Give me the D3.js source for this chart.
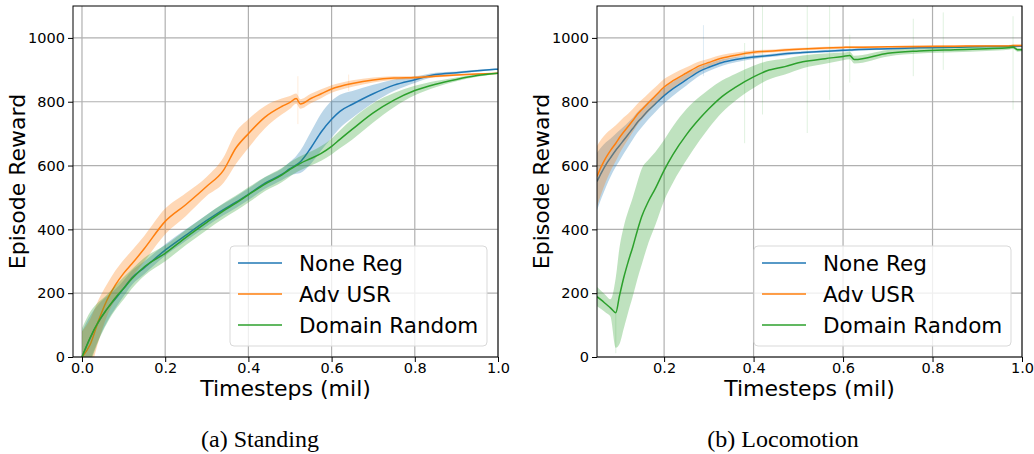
<!DOCTYPE html>
<html>
<head>
<meta charset="utf-8">
<script src="https://cdn.jsdelivr.net/npm/d3@7"></script>
<style>
  body { margin: 0; background: #fff; }
  svg text { font-family: "DejaVu Sans", sans-serif; fill: #000; }
  .caption { font-family: "Liberation Serif", "Times New Roman", serif; }
</style>
</head>
<body>
<div id="chart"></div>
<script>
// series names + tab10 colors
const seriesNames = ["None Reg", "Adv USR", "Domain Random"];
const seriesColors = ["#1f77b4", "#ff7f0e", "#2ca02c"];

// ----- (a) Standing -----
const standX = [0, 0.02, 0.04, 0.06, 0.08, 0.1, 0.12, 0.15, 0.2, 0.25, 0.3, 0.34, 0.37, 0.4, 0.44, 0.48, 0.5, 0.515, 0.525, 0.55, 0.575, 0.6, 0.62, 0.65, 0.7, 0.75, 0.8, 0.85, 0.9, 0.95, 1.0];
const standNone = [0, 60, 110, 150, 182, 215, 248, 280, 335, 382, 428, 462, 485, 510, 545, 572, 590, 602, 612, 655, 705, 745, 770, 792, 825, 852, 869, 885, 891, 897, 902];
const standAdv = [0, 40, 115, 178, 225, 262, 292, 340, 425, 478, 535, 585, 655, 700, 752, 785, 798, 810, 793, 810, 825, 840, 848, 857, 868, 874, 876, 880, 884, 887, 889];
const standDomain = [0, 62, 112, 150, 185, 215, 245, 283, 325, 375, 422, 458, 482, 508, 542, 570, 588, 600, 607, 622, 638, 660, 682, 714, 765, 805, 835, 855, 870, 882, 889];
// half width of the shaded band
const standNoneBand = [80, 70, 55, 40, 30, 25, 22, 20, 18, 18, 18, 18, 18, 18, 18, 18, 22, 28, 35, 50, 58, 58, 52, 42, 28, 18, 10, 6, 4, 3, 2];
const standAdvBand = [80, 80, 65, 50, 45, 42, 42, 40, 40, 36, 30, 40, 50, 45, 35, 25, 20, 16, 15, 15, 14, 12, 11, 10, 8, 6, 5, 4, 3, 2, 2];
const standDomainBand = [90, 80, 60, 45, 38, 35, 30, 28, 25, 24, 24, 24, 24, 24, 22, 22, 22, 22, 22, 22, 23, 25, 28, 32, 30, 22, 15, 10, 6, 4, 2];
// thin spikes in the bands: [series index, x, low, high]
const standSpikes = [[1, 0.519, 730, 880], [1, 0.641, 833, 885]];

// ----- (b) Locomotion -----
const locoX = [0.05, 0.06, 0.07, 0.08, 0.092, 0.1, 0.11, 0.12, 0.13, 0.14, 0.15, 0.165, 0.18, 0.2, 0.22, 0.25, 0.28, 0.3, 0.33, 0.36, 0.4, 0.43, 0.47, 0.51, 0.56, 0.6, 0.615, 0.625, 0.7, 0.77, 0.85, 0.92, 0.97, 0.98, 0.99, 1.0];
const locoNone = [550, 578, 603, 624, 648, 662, 680, 698, 716, 735, 750, 773, 793, 819, 841, 869, 896, 908, 923, 932, 940, 944, 950, 954, 958, 961, 962, 963, 966, 969, 971, 973, 973, 974, 974, 974];
const locoAdv = [566, 598, 625, 647, 670, 687, 706, 723, 741, 760, 775, 797, 818, 846, 866, 890, 913, 923, 937, 946, 955, 958, 962, 965, 968, 970, 971, 971, 972, 973, 974, 975, 975, 976, 976, 976];
const locoDomain = [189, 178, 166, 154, 139, 190, 250, 300, 345, 395, 440, 488, 527, 585, 635, 697, 748, 778, 817, 846, 878, 897, 910, 925, 935, 942, 945, 932, 952, 959, 963, 966, 969, 971, 963, 963];
const locoNoneBand = [90, 80, 70, 60, 52, 48, 42, 38, 34, 32, 30, 28, 26, 24, 22, 18, 14, 12, 10, 8, 6, 5, 5, 4, 4, 4, 4, 4, 3, 3, 3, 3, 3, 3, 3, 3];
const locoAdvBand = [95, 85, 75, 65, 56, 50, 45, 40, 36, 33, 31, 29, 27, 25, 22, 18, 14, 12, 10, 8, 6, 5, 5, 4, 4, 4, 4, 4, 3, 3, 3, 3, 3, 3, 3, 3];
const locoDomainBand = [30, 28, 27, 27, 110, 150, 160, 158, 155, 152, 150, 130, 115, 95, 88, 80, 68, 60, 50, 42, 35, 30, 25, 20, 16, 12, 12, 12, 10, 8, 8, 7, 6, 6, 6, 5];
const locoSpikes = [[0, 0.288, 880, 1040], [2, 0.38, 670, 984], [2, 0.42, 760, 1100], [2, 0.52, 702, 1100], [2, 0.57, 806, 1100], [2, 0.615, 860, 1010], [2, 0.757, 880, 1060], [2, 0.824, 900, 1080], [2, 0.98, 775, 1068], [2, 0.092, 12, 140]];

const yTicks = [0, 200, 400, 600, 800, 1000];

const panels = [
    {
        x0: 73, x1: 498, caption: "(a) Standing", capX: 260,
        xDomain: [-0.0216, 1.0], xTicks: [0, 0.2, 0.4, 0.6, 0.8, 1.0],
        xs: standX, ys: [standNone, standAdv, standDomain],
        bands: [standNoneBand, standAdvBand, standDomainBand], spikes: standSpikes
    },
    {
        x0: 597, x1: 1022, caption: "(b) Locomotion", capX: 783,
        xDomain: [0.05, 1.0], xTicks: [0.2, 0.4, 0.6, 0.8, 1.0],
        xs: locoX, ys: [locoNone, locoAdv, locoDomain],
        bands: [locoNoneBand, locoAdvBand, locoDomainBand], spikes: locoSpikes
    }
];

const W = 1034, H = 454;
const plotTop = 6, plotBottom = 357;

const svg = d3.select("#chart").append("svg")
    .attr("width", W)
    .attr("height", H);

panels.forEach((p, pi) => {

    const x = d3.scaleLinear().domain(p.xDomain).range([p.x0, p.x1]);
    const y = d3.scaleLinear().domain([0, 1100]).range([plotBottom, plotTop]);

    const g = svg.append("g");

    // clip to plot area
    g.append("clipPath")
    .attr("id", "clip" + pi)
    .append("rect")
    .attr("x", p.x0)
    .attr("y", plotTop)
    .attr("width", p.x1 - p.x0)
    .attr("height", plotBottom - plotTop);

    // grid
    g.append("g")
    .selectAll("line")
    .data(p.xTicks)
    .enter()
    .append("line")
    .attr("x1", d => x(d)).attr("x2", d => x(d))
    .attr("y1", plotTop).attr("y2", plotBottom)
    .attr("stroke", "#b0b0b0")
    .attr("stroke-width", 1.2);

    g.append("g")
    .selectAll("line")
    .data(yTicks)
    .enter()
    .append("line")
    .attr("x1", p.x0).attr("x2", p.x1)
    .attr("y1", d => y(d)).attr("y2", d => y(d))
    .attr("stroke", "#b0b0b0")
    .attr("stroke-width", 1.2);

    const plot = g.append("g").attr("clip-path", `url(#clip${pi})`);

    const area = d3.area()
    .x(d => x(d.x))
    .y0(d => y(d.lo))
    .y1(d => y(d.hi))
    .curve(d3.curveMonotoneX);

    const line = d3.line()
    .x(d => x(d.x))
    .y(d => y(d.y))
    .curve(d3.curveMonotoneX);

    // each series: band, spikes, then mean line
    p.ys.forEach((ys, si) => {
        const pts = p.xs.map((xv, i) => ({
            x: xv,
            y: ys[i],
            lo: ys[i] - p.bands[si][i],
            hi: ys[i] + p.bands[si][i]
        }));

        plot.append("path")
        .datum(pts)
        .attr("d", area)
        .attr("fill", seriesColors[si])
        .attr("fill-opacity", 0.3);

        plot.selectAll(".spike" + si)
        .data(p.spikes.filter(s => s[0] == si))
        .enter()
        .append("line")
        .attr("class", "spike" + si)
        .attr("x1", d => x(d[1])).attr("x2", d => x(d[1]))
        .attr("y1", d => y(d[2])).attr("y2", d => y(d[3]))
        .attr("stroke", seriesColors[si])
        .attr("stroke-opacity", 0.15)
        .attr("stroke-width", 1);

        plot.append("path")
        .datum(pts)
        .attr("d", line)
        .attr("fill", "none")
        .attr("stroke", seriesColors[si])
        .attr("stroke-width", 1.5);
    });

    // axes
    const xAxis = d3.axisBottom(x)
    .tickValues(p.xTicks)
    .tickFormat(d3.format(".1f"))
    .tickSize(5)
    .tickSizeOuter(0);

    const yAxis = d3.axisLeft(y)
    .tickValues(yTicks)
    .tickFormat(d3.format("d"))
    .tickSize(5)
    .tickSizeOuter(0);

    g.append("g")
    .attr("transform", `translate(0,${plotBottom})`)
    .call(xAxis)
    .call(a => a.select(".domain").remove())
    .selectAll("text")
    .attr("font-size", 14.5)
    .attr("font-family", "DejaVu Sans")
    .attr("dy", "0.55em");

    g.append("g")
    .attr("transform", `translate(${p.x0},0)`)
    .call(yAxis)
    .call(a => a.select(".domain").remove())
    .selectAll("text")
    .attr("font-size", 14.5)
    .attr("font-family", "DejaVu Sans");

    // spines
    g.append("rect")
    .attr("x", p.x0)
    .attr("y", plotTop)
    .attr("width", p.x1 - p.x0)
    .attr("height", plotBottom - plotTop)
    .attr("fill", "none")
    .attr("stroke", "#000")
    .attr("stroke-width", 1);

    // axis labels
    g.append("text")
    .attr("x", (p.x0 + p.x1) / 2)
    .attr("y", 396)
    .attr("text-anchor", "middle")
    .attr("font-size", 22)
    .text("Timesteps (mil)");

    g.append("text")
    .attr("transform", `translate(${p.x0 - 48},${(plotTop + plotBottom) / 2}) rotate(-90)`)
    .attr("text-anchor", "middle")
    .attr("font-size", 22)
    .text("Episode Reward");

    // legend
    const lg = g.append("g").attr("transform", `translate(${p.x1 - 268},246)`);
    lg.append("rect")
    .attr("width", 257)
    .attr("height", 100)
    .attr("rx", 4)
    .attr("fill", "#fff")
    .attr("fill-opacity", 0.8)
    .attr("stroke", "#d9d9d9")
    .attr("stroke-width", 1);

    seriesNames.forEach((name, i) => {
        const ly = 17 + i * 31;
        lg.append("line")
        .attr("x1", 8).attr("x2", 52)
        .attr("y1", ly).attr("y2", ly)
        .attr("stroke", seriesColors[i])
        .attr("stroke-width", 1.5);
        lg.append("text")
        .attr("x", 69)
        .attr("y", ly)
        .attr("dy", "0.36em")
        .attr("font-size", 21.5)
        .text(name);
    });

    // caption
    svg.append("text")
    .attr("class", "caption")
    .attr("x", p.capX)
    .attr("y", 447)
    .attr("text-anchor", "middle")
    .attr("font-size", 24)
    .text(p.caption);
});
</script>
</body>
</html>
